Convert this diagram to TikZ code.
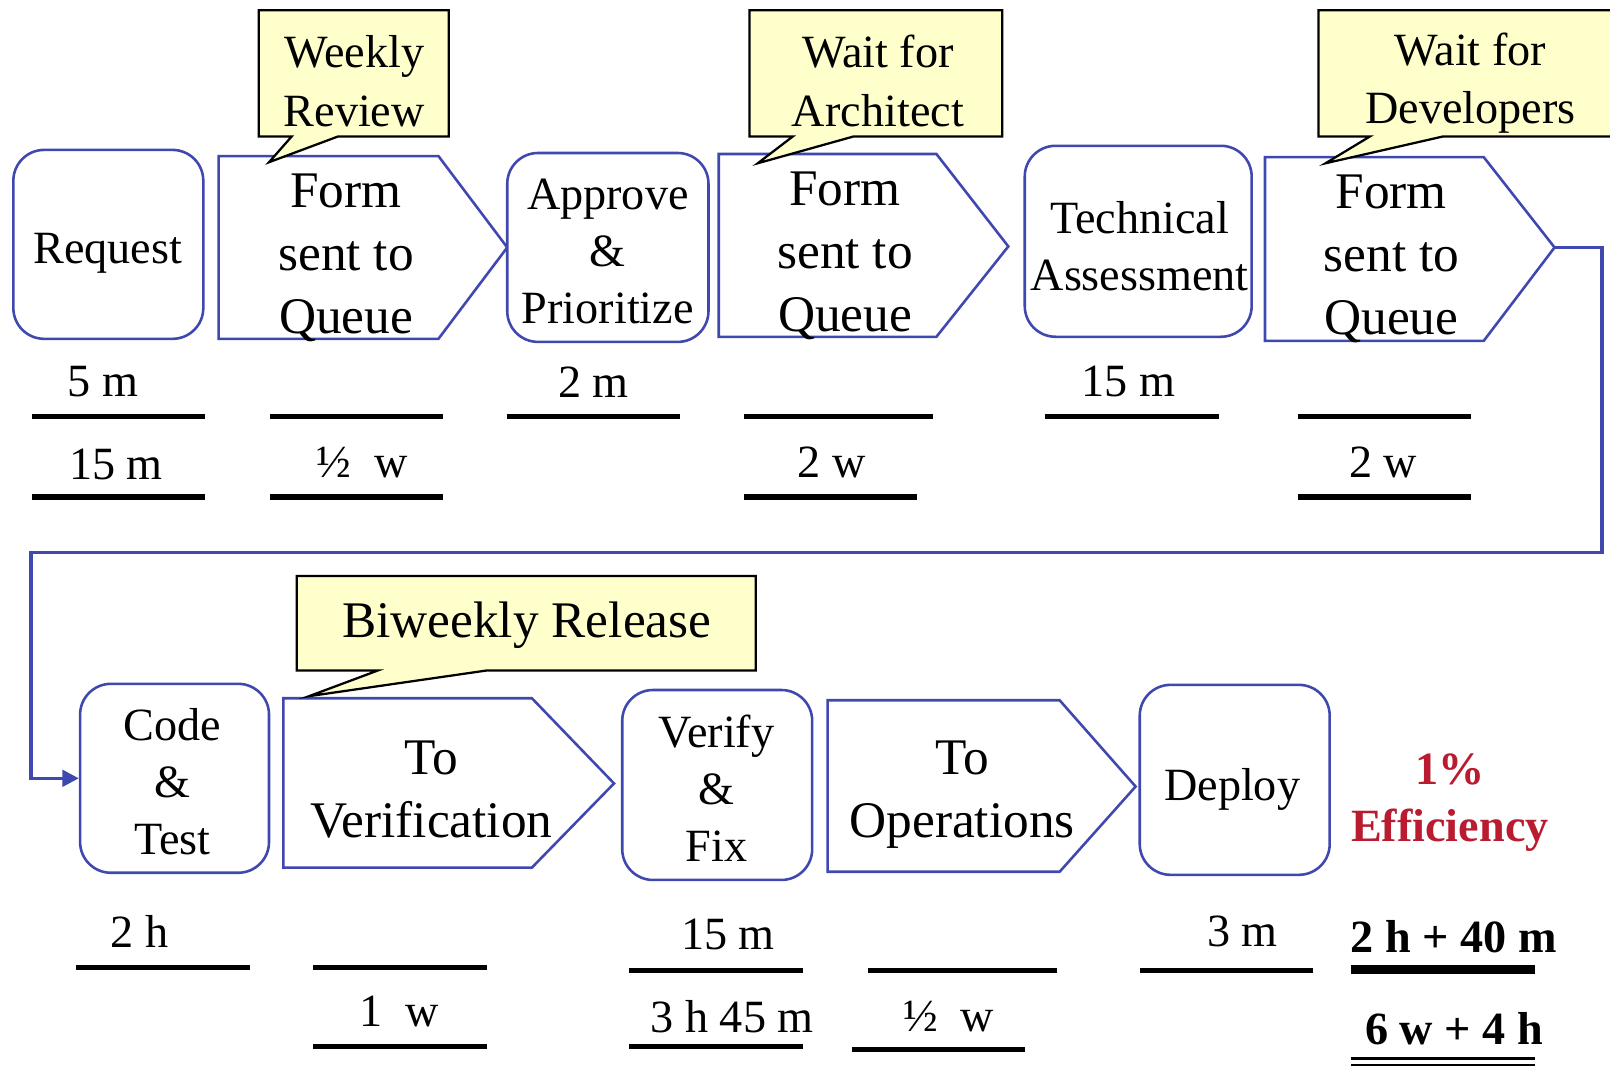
\documentclass[tikz,border=0pt]{standalone}
\usepackage{fontspec}
\setmainfont{Liberation Serif}
\usetikzlibrary{arrows.meta}
\definecolor{stepblue}{RGB}{63,72,175}
\definecolor{notefill}{RGB}{255,255,204}
\definecolor{effred}{RGB}{185,28,48}
\newcommand{\txtA}{\fontsize{45}{55.5}\selectfont}
\newcommand{\txtB}{\fontsize{50}{61.5}\selectfont}
\tikzset{
  stepbox/.style={draw=stepblue, line width=2.5pt, rounded corners=30pt, fill=white,
    inner sep=0pt, align=center, font=\txtA},
  queueshape/.style={draw=stepblue, line width=2.5pt, fill=white, line join=miter},
  notebox/.style={draw=black, line width=2.2pt, fill=notefill, line join=miter},
  lbl/.style={inner sep=0pt, align=center, font=\txtA},
  biglbl/.style={inner sep=0pt, align=center, font=\txtB},
  timelbl/.style={inner sep=0pt, font=\txtA},
  totlbl/.style={inner sep=0pt, font=\txtA\bfseries},
  bar/.style={line width=5pt, black},
  conn/.style={draw=stepblue, line width=3.5pt, -{Triangle[length=16pt,width=16pt]}},
}
\begin{document}
\begin{tikzpicture}[x=1pt,y=-1pt]
\useasboundingbox (0,0) rectangle (1568,1040);
\clip (0,0) rectangle (1568,1040);
\fill[white] (0,0) rectangle (1568,1040);

% ---------- top row ----------
\node[stepbox, minimum width=185pt, minimum height=184pt] (req) at (105.5,238) {};
\node[lbl] (reqtxt) at (105,247) {Request};

\draw[queueshape] (213,152) -- (427,152) -- (494,241) -- (427,330) -- (213,330) -- cycle;
\node[biglbl] (q1txt) at (337,251) {Form\\sent to\\Queue};

\node[stepbox, minimum width=196pt, minimum height=184pt] (appr) at (592,241) {};
\node[lbl] (apprtxt) at (592,245) {Approve\\\&\\Prioritize};

\draw[queueshape] (700,150) -- (912,150) -- (982,240) -- (912,328) -- (700,328) -- cycle;
\node[biglbl] (q2txt) at (823,249) {Form\\sent to\\Queue};

\node[stepbox, minimum width=221pt, minimum height=186pt] (tech) at (1108.5,235) {};
\node[lbl] (techtxt) at (1110,240) {Technical\\Assessment};

\draw[queueshape] (1232,153) -- (1445,153) -- (1514,241) -- (1445,332) -- (1232,332) -- cycle;
\coordinate (q3tip) at (1514,241);
\node[biglbl] (q3txt) at (1355,252) {Form\\sent to\\Queue};

% callouts above the queues
\draw[notebox] (252,10) -- (437,10) -- (437,133) -- (329,133) -- (262,158) -- (284,133) -- (252,133) -- cycle;
\node[lbl, font=\fontsize{45}{57}\selectfont] (n1txt) at (345,79) {Weekly\\Review};

\draw[notebox] (730,10) -- (976,10) -- (976,133) -- (831,133) -- (738,159) -- (772,133) -- (730,133) -- cycle;
\node[lbl, font=\fontsize{45}{57}\selectfont] (n2txt) at (855,79) {Wait for\\Architect};

\draw[notebox] (1284,10) -- (1585,10) -- (1585,133) -- (1405,133) -- (1291,159) -- (1334,133) -- (1284,133) -- cycle;
\node[lbl, font=\fontsize{45}{57}\selectfont] (n3txt) at (1432,81) {Wait for\\Developers};

% top row times
\node[timelbl] (t1a) at (100,372) {5 m};
\draw[bar] (31,406) -- (200,406);
\node[timelbl] (t1b) at (113,452) {15 m};
\draw[bar] (31,484) -- (200,484);

\draw[bar] (263,406) -- (431,406);
\node[timelbl] (t2b) at (353,450) {½\ \ w};
\draw[bar] (263,484) -- (431,484);

\node[timelbl] (t3a) at (578,372) {2 m};
\draw[bar] (494,406) -- (662,406);

\draw[bar] (725,406) -- (909,406);
\node[timelbl] (t4b) at (810,450) {2 w};
\draw[bar] (725,484) -- (893,484);

\node[timelbl] (t5a) at (1099,372) {15 m};
\draw[bar] (1018,406) -- (1187,406);

\draw[bar] (1264,406) -- (1433,406);
\node[timelbl] (t6b) at (1347,450) {2 w};
\draw[bar] (1264,484) -- (1433,484);

% ---------- bottom row ----------
\node[stepbox, minimum width=184pt, minimum height=184pt] (code) at (170,758) {};
\node[lbl] (codetxt) at (168,761) {Code\\\&\\Test};

\draw[queueshape] (276,680) -- (518,680) -- (598,763) -- (518,845) -- (276,845) -- cycle;
\node[biglbl] (vqtxt) at (420,769) {To\\Verification};

\node[stepbox, minimum width=185pt, minimum height=185pt] (verify) at (698.5,764.5) {};
\node[lbl] (verifytxt) at (698,768) {Verify\\\&\\Fix};

\draw[queueshape] (806,682) -- (1032,682) -- (1106,766) -- (1032,849) -- (806,849) -- cycle;
\node[biglbl] (oqtxt) at (937,774) {To\\Operations};

\node[stepbox, minimum width=185pt, minimum height=185pt] (deploy) at (1202.5,759.5) {};
\node[lbl] (deploytxt) at (1200,769) {Deploy};

\draw[notebox] (289,561) -- (736,561) -- (736,653) -- (474,653) -- (301,678) -- (368,653) -- (289,653) -- cycle;
\node[biglbl] (n4txt) at (513,609) {Biweekly Release};

\node[lbl, font=\txtA\bfseries, text=effred] (eff) at (1412,782) {1\%\\Efficiency};

% bottom row times
\node[timelbl] (t7a) at (136,907) {2 h};
\draw[bar] (74,942) -- (243,942);

\draw[bar] (305,942) -- (474,942);
\node[timelbl] (t8b) at (389,985) {1\ \ w};
\draw[bar] (305,1019) -- (474,1019);

\node[timelbl] (t9a) at (709,910) {15 m};
\draw[bar] (613,945) -- (782,945);
\node[timelbl] (t9b) at (713,990) {3 h 45 m};
\draw[bar] (613,1019) -- (782,1019);

\draw[bar] (845,945) -- (1029,945);
\node[timelbl] (t10b) at (924,990) {½\ \ w};
\draw[bar] (830,1022) -- (998,1022);

\node[timelbl] (t11a) at (1210,907) {3 m};
\draw[bar] (1110,945) -- (1279,945);

\node[totlbl] (tota) at (1416,912) {2 h + 40 m};
\draw[line width=9pt, black] (1316,944) -- (1495,944);
\node[totlbl] (totb) at (1416,1002) {6 w + 4 h};
\draw[line width=2.5pt, black] (1316,1031) -- (1495,1031);
\draw[line width=2.5pt, black] (1316,1037) -- (1495,1037);

% flow from the top row down to the bottom row
\draw[conn] (q3tip) -- ++(46,0) |- (30,538) |- (code.west);
\end{tikzpicture}
\end{document}
